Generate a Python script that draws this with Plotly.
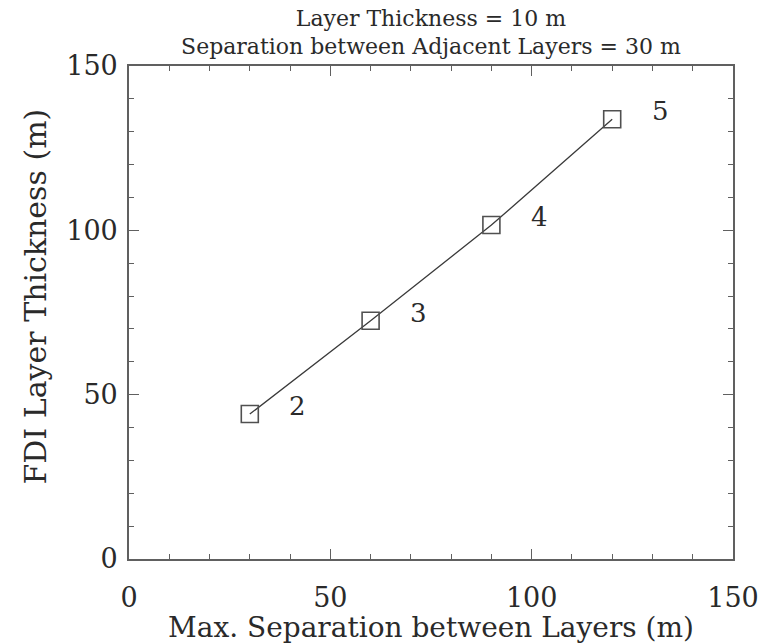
import plotly.graph_objects as go

# Data
max_separation = [30, 60, 90, 120]          # x: Max. Separation between Layers (m)
fdi_thickness = [44.1, 72.5, 101.6, 133.8]  # y: FDI Layer Thickness (m)
n_layers = ["2", "3", "4", "5"]             # point labels
x_ticks = [0, 50, 100, 150]
y_ticks = [0, 50, 100, 150]

SERIF = "DejaVu Serif"
INK = "#2a2a2a"
AXIS = "#606060"

fig = go.Figure()
fig.add_trace(go.Scatter(
    x=max_separation, y=fdi_thickness,
    mode="lines+markers",
    line=dict(color="#3a3a3a", width=1.3),
    marker=dict(symbol="square-open", size=17, color="#505050",
                line=dict(width=1.6, color="#505050")),
    showlegend=False,
))

for xv, yv, lab in zip(max_separation, fdi_thickness, n_layers):
    fig.add_annotation(x=xv, y=yv, text=lab, showarrow=False,
                       xshift=48, yshift=8,
                       font=dict(family=SERIF, size=26, color=INK))

# y-axis title placed as a rotated annotation (slightly above plot centre, as in the reference)
fig.add_annotation(xref="paper", yref="paper", x=0, y=0.5, xanchor="center", yanchor="middle",
                   xshift=-94, yshift=16, textangle=-90, showarrow=False,
                   text="FDI Layer Thickness (m)",
                   font=dict(family=SERIF, size=30, color=INK))

axis_common = dict(
    range=[0, 150], showgrid=False, zeroline=False,
    showline=True, linecolor=AXIS, linewidth=1.6, mirror="ticks",
    ticks="inside", ticklen=10, tickwidth=1.4, tickcolor=AXIS,
    minor=dict(dtick=10, ticks="inside", ticklen=5, tickwidth=1.2, tickcolor=AXIS, showgrid=False),
    tickfont=dict(family=SERIF, size=27, color=INK),
)

fig.update_xaxes(**axis_common, tickvals=x_ticks, ticklabelstandoff=14,
                 title=dict(text="Max. Separation between Layers (m)",
                            font=dict(family=SERIF, size=28, color=INK), standoff=5))
fig.update_yaxes(**axis_common, tickvals=y_ticks, ticklabelstandoff=4)

fig.update_layout(
    width=762, height=644,
    margin=dict(l=129, r=29, t=66, b=85, autoexpand=False),
    paper_bgcolor="white", plot_bgcolor="white",
    title=dict(text="Layer Thickness = 10 m<br>Separation between Adjacent Layers = 30 m",
               x=0.5655, xanchor="center", y=0.96, yanchor="middle",
               font=dict(family=SERIF, size=22, color=INK)),
)

fig.write_html("out.html")
